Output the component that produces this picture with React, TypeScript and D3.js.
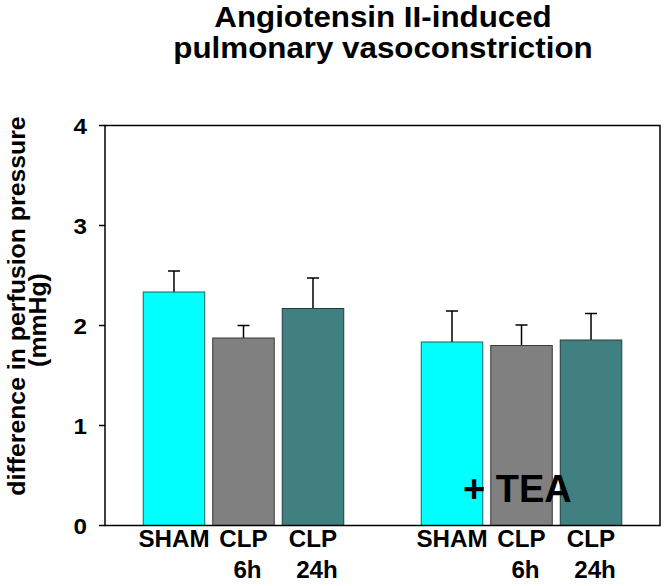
import React from "react";
import * as d3 from "d3";

const groups = ["control", "TEA"];
const categories = ["SHAM", "CLP 6h", "CLP 24h"];
const labelLines = [["SHAM"], ["CLP", "6h"], ["CLP", "24h"]];
const meansControl = [2.335, 1.875, 2.17];
const errControl = [0.21, 0.125, 0.305];
const meansTEA = [1.835, 1.8, 1.855];
const errTEA = [0.31, 0.205, 0.265];
const colors = ["#00FFFF", "#808080", "#408080"];
const yTicks = [0, 1, 2, 3, 4];
const titleLines = ["Angiotensin II-induced", "pulmonary vasoconstriction"];
const yLabelLines = ["difference in perfusion pressure", "(mmHg)"];

const W = 669, H = 586;
const L = 105, R = 660, T = 125.5, B = 525.5;

export default function App() {
  const slots = ["g0c0", "g0c1", "g0c2", "gap", "g1c0", "g1c1", "g1c2"];
  const x = d3.scaleBand<string>().domain(slots).range([L, R]).paddingInner(0.115).paddingOuter(0.55);
  const y = d3.scaleLinear().domain([0, 4]).range([B, T]);
  const bw = x.bandwidth();

  const bars: { key: string; cat: number; mean: number; err: number }[] = [];
  groups.forEach((g, gi) => {
    const m = gi === 0 ? meansControl : meansTEA;
    const e = gi === 0 ? errControl : errTEA;
    categories.forEach((c, ci) => {
      bars.push({ key: `g${gi}c${ci}`, cat: ci, mean: m[ci], err: e[ci] });
    });
  });

  const font = "'Liberation Sans', Arial, Helvetica, sans-serif";
  const strokeFor = ["#1f5f5f", "#3a3a3a", "#1f3f3f"];

  return (
    <svg width={W} height={H} style={{ position: "absolute", left: 0, top: 0, background: "#fff" }} fontFamily={font}>
      <rect x={0} y={0} width={W} height={H} fill="#fff" />
      {/* title */}
      {titleLines.map((t, i) => (
        <text key={t} transform={`translate(383,${27 + i * 31}) scale(1.08,1)`} textAnchor="middle" fontSize={29} fontWeight="bold" fill="#000">{t}</text>
      ))}
      {/* y label */}
      {yLabelLines.map((t, i) => (
        <text key={t} transform={`translate(${i === 0 ? 25 : 46},${i === 0 ? 306 : 320}) rotate(-90) scale(1.08,1)`} textAnchor="middle" fontSize={23} fontWeight="bold" fill="#000">{t}</text>
      ))}
      {/* bars */}
      {bars.map((b) => {
        const x0 = x(b.key)!;
        const cx = x0 + bw / 2;
        return (
          <g key={b.key}>
            <line x1={cx} x2={cx} y1={y(b.mean)} y2={y(b.mean + b.err)} stroke="#000" strokeWidth={1.5} />
            <line x1={cx - 6} x2={cx + 6} y1={y(b.mean + b.err)} y2={y(b.mean + b.err)} stroke="#000" strokeWidth={1.5} />
            <rect x={x0} y={y(b.mean)} width={bw} height={B - y(b.mean)} fill={colors[b.cat]} stroke={strokeFor[b.cat]} strokeWidth={1} />
          </g>
        );
      })}
      {/* frame */}
      <rect x={L} y={T} width={R - L} height={B - T} fill="none" stroke="#000" strokeWidth={1.5} />
      {/* y ticks */}
      {yTicks.map((t) => (
        <g key={t}>
          <line x1={L - 6} x2={L} y1={y(t)} y2={y(t)} stroke="#000" strokeWidth={1.5} />
          <text transform={`translate(87,${y(t) + 8}) scale(1.1,1)`} textAnchor="end" fontSize={22} fontWeight="bold" fill="#000">{t}</text>
        </g>
      ))}
      {/* x labels */}
      {bars.map((b) => {
        const cx = x(b.key)! + bw / 2;
        return labelLines[b.cat].map((ln, li) => (
          <text key={b.key + li} transform={`translate(${cx + (li === 1 ? 4 : 0)},${547 + li * 31}) scale(1.05,1)`} textAnchor="middle" fontSize={23} fontWeight="bold" fill="#000">{ln}</text>
        ));
      })}
      <text x={463} y={502} fontSize={38} fontWeight="bold" fill="#000">+ TEA</text>
    </svg>
  );
}
